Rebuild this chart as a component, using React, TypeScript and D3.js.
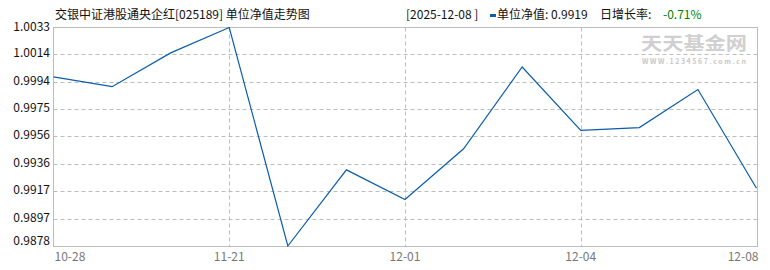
import React from "react";
import * as d3 from "d3";

const dates = ["10-28", "11-04", "11-14", "11-21", "11-24", "11-28", "12-01", "12-02", "12-03", "12-04", "12-05", "12-07", "12-08"];
const navValues = [0.9998, 0.9991, 1.0015, 1.0033, 0.9878, 0.9932, 0.9911, 0.9947, 1.0005, 0.996, 0.9962, 0.9989, 0.9919];
const yTickLabels = ["0.9878", "0.9897", "0.9917", "0.9936", "0.9956", "0.9975", "0.9994", "1.0014", "1.0033"];
const xTickLabels = ["10-28", "11-21", "12-01", "12-04", "12-08"];
const title = "交银中证港股通央企红[025189] 单位净值走势图";
const headerDate = "[2025-12-08 ]";
const headerNav = "单位净值: 0.9919";
const headerRateLabel = "日增长率: ";
const headerRate = "-0.71%";

const W = 770, H = 270;
const left = 53.5, right = 757.5, top = 27.5, bottom = 246;
const FONT = "'Noto Sans CJK SC', 'Noto Sans', sans-serif";

export default function App() {
  const x = d3.scalePoint<string>().domain(dates).range([left, right - 1]);
  const y = d3.scaleLinear().domain([+yTickLabels[0], +yTickLabels[yTickLabels.length - 1]]).range([bottom, top]);
  const line = d3.line<number>().x((_, i) => x(dates[i])!).y((d) => y(d));
  const pts = navValues;

  return (
    <svg width={W} height={H} style={{ position: "absolute", left: 0, top: 0, background: "#fff" }} fontFamily={FONT}>
      {/* watermark */}
      <text x={641} y={50} fontSize={18} fill="#d0d0d0" fontWeight="bold" textLength={106} lengthAdjust="spacingAndGlyphs">天天基金网</text>
      <text x={642} y={64} fontSize={7} fill="#c8c8c8" fontWeight="bold" textLength={104} lengthAdjust="spacing">WWW.1234567.com.cn</text>

      {/* horizontal grid */}
      {yTickLabels.slice(1, -1).map((t) => (
        <line key={t} x1={left} x2={right} y1={Math.round(y(+t)) + 0.5} y2={Math.round(y(+t)) + 0.5} stroke="#bdbdbd" strokeDasharray="4,3" />
      ))}
      {/* vertical grid */}
      {xTickLabels.slice(1, -1).map((t) => (
        <line key={t} x1={Math.round(x(t)!) + 0.5} x2={Math.round(x(t)!) + 0.5} y1={top} y2={bottom} stroke="#bdbdbd" strokeDasharray="4,3" />
      ))}
      {/* frame */}
      <rect x={left} y={top} width={right - left} height={bottom - top + 0.5} fill="none" stroke="#bdbdbd" />

      {/* line */}
      <path d={line(pts) || ""} fill="none" stroke="#0b5cab" strokeWidth={1.2} />

      {/* y labels */}
      {yTickLabels.map((t, i) => (
        <text key={t} x={50} y={y(+t) + 4 - (i === 0 ? 5 : 1)} textAnchor="end" fontSize={12} fill="#111">{t}</text>
      ))}
      {/* x labels */}
      {xTickLabels.map((t, i) => (
        <text key={t} x={i === 0 ? left + 1 : i === xTickLabels.length - 1 ? right + 1 : x(t)!} y={261}
          textAnchor={i === 0 ? "start" : i === xTickLabels.length - 1 ? "end" : "middle"} fontSize={12} fill="#777">{t}</text>
      ))}

      {/* title */}
      <text x={55} y={19} fontSize={12} fill="#111">{title}</text>
      {/* header */}
      <text x={406} y={19} fontSize={12} fill="#111">{headerDate}</text>
      <rect x={490} y={14} width={6} height={3} fill="#0b5cab" />
      <text x={497} y={19} fontSize={12} fill="#111">{headerNav}</text>
      <text x={600} y={19} fontSize={12} fill="#111">{headerRateLabel}</text>
      <text x={663} y={19} fontSize={12} fill="#008000">{headerRate}</text>
    </svg>
  );
}
